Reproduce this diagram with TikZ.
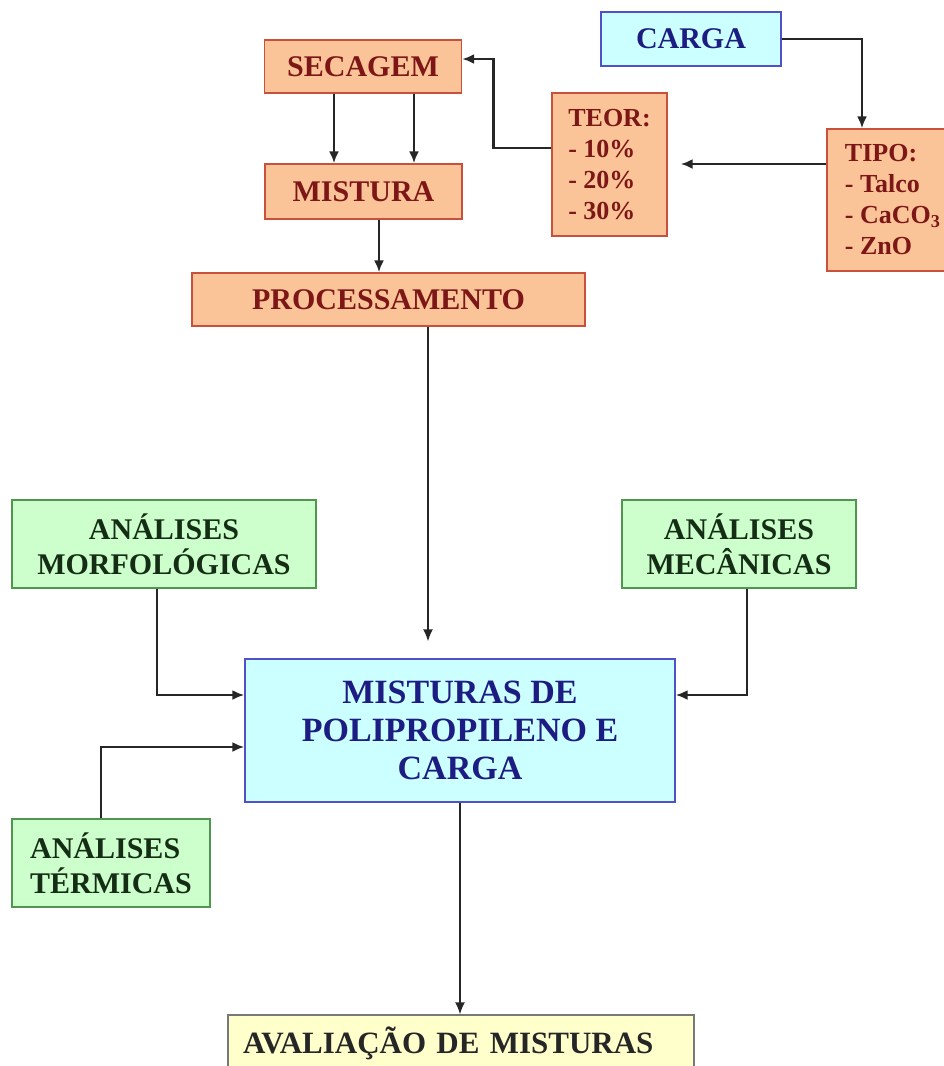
\documentclass[tikz,border=0pt]{standalone}
\usepackage{fontspec}
\setmainfont{Liberation Serif}
\usetikzlibrary{arrows.meta}

\definecolor{peachfill}{RGB}{250,196,152}
\definecolor{peachline}{RGB}{200,80,60}
\definecolor{peachtext}{RGB}{125,22,22}
\definecolor{cyanfill}{RGB}{204,255,255}
\definecolor{blueline}{RGB}{80,80,200}
\definecolor{navytext}{RGB}{28,28,130}
\definecolor{greenfill}{RGB}{204,255,204}
\definecolor{greenline}{RGB}{80,150,80}
\definecolor{greentext}{RGB}{20,45,20}
\definecolor{yellowfill}{RGB}{255,255,204}
\definecolor{greyline}{RGB}{120,120,120}

\begin{document}
\begin{tikzpicture}[x=0.5pt,y=-0.5pt,
   box/.style={draw,line width=0.7pt,inner sep=0pt,align=center,
      font=\bfseries\fontsize{15}{17.5}\selectfont},
   peachbox/.style={box,fill=peachfill,draw=peachline,text=peachtext},
   listbox/.style={peachbox,align=left,font=\bfseries\fontsize{13}{15.5}\selectfont},
   cyanbox/.style={box,fill=cyanfill,draw=blueline,text=navytext},
   greenbox/.style={box,fill=greenfill,draw=greenline,text=greentext},
   yellowbox/.style={box,fill=yellowfill,draw=greyline,text=black!85},
   arr/.style={-{Latex[length=6pt,width=5pt]},line width=1.3pt,black!85},
   thinarr/.style={arr,line width=0.8pt}]

   \fill[white] (0,0) rectangle (943,1066);
   \useasboundingbox (0,0) rectangle (943,1066);

   % top part
   \node[peachbox,minimum width=98.5pt,minimum height=26.5pt] (secagem) at (363,66.5) {SECAGEM};
   \node[peachbox,minimum width=98.5pt,minimum height=27.5pt] (mistura) at (363.5,191.5) {MISTURA};
   \node[peachbox,minimum width=196.5pt,minimum height=26.5pt] (proc) at (388.5,299.5) {PROCESSAMENTO};
   \node[listbox,minimum width=57.5pt,minimum height=71.5pt] (teor) at (609.5,164.5) {TEOR:\\- 10\%\\- 20\%\\- 30\%};
   \node[listbox,minimum width=66pt,minimum height=71pt] (tipo) at (893,200) {TIPO:\\- Talco\\- CaCO\textsubscript{3}\\- ZnO};
   \node[cyanbox,minimum width=90pt,minimum height=27pt] (carga) at (691,39) {CARGA};

   \draw[arr] ([xshift=-14.5pt]secagem.south) -- ([xshift=-14.5pt]secagem.south |- mistura.north);
   \draw[arr] ([xshift=25.5pt]secagem.south) -- ([xshift=25.5pt]secagem.south |- mistura.north);
   \draw[arr] ([xshift=7.75pt]mistura.south) -- ([xshift=7.75pt]mistura.south |- proc.north);
   \draw[arr] ([yshift=8.25pt]teor.west) -- ++(-29pt,0) |- ([yshift=3.75pt]secagem.east);
   \draw[arr] (carga.east) -| ([xshift=-15.5pt]tipo.north);
   \draw[arr,shorten >=6.5pt] ([yshift=18pt]tipo.west) -- ([yshift=18pt]tipo.west -| teor.east);

   % analyses
   \node[greenbox,minimum width=152pt,minimum height=44pt] (morfo) at (164,544) {ANÁLISES\\MORFOLÓGICAS};
   \node[greenbox,minimum width=117pt,minimum height=44pt] (mecan) at (739,544) {ANÁLISES\\MECÂNICAS};
   \node[greenbox,align=left,minimum width=99pt,minimum height=44pt] (termicas) at (111,863) {ANÁLISES\\TÉRMICAS};
   \node[cyanbox,font=\bfseries\fontsize{17}{19}\selectfont,minimum width=215pt,minimum height=71.5pt] (misturas) at (460,730.5) {MISTURAS DE\\POLIPROPILENO E\\CARGA};
   \node[yellowbox,font=\bfseries\fontsize{15.5}{17.5}\selectfont,text width=218pt,inner xsep=7.5pt,align=left,minimum height=28pt] (aval) at (461,1043) {AVALIAÇÃO DE MISTURAS};

   \draw[thinarr,shorten >=8.5pt] ([xshift=19.75pt]proc.south) -- ([xshift=19.75pt]proc.south |- misturas.north);
   \draw[arr] ([xshift=-3.5pt]morfo.south) |- ([yshift=17.75pt]misturas.west);
   \draw[arr] ([xshift=4pt]mecan.south) |- ([yshift=17.75pt]misturas.east);
   \draw[arr] ([xshift=-5pt]termicas.north) |- ([yshift=-8.25pt]misturas.west);
   \draw[thinarr] (misturas.south) -- (misturas.south |- aval.north);

\end{tikzpicture}
\end{document}
